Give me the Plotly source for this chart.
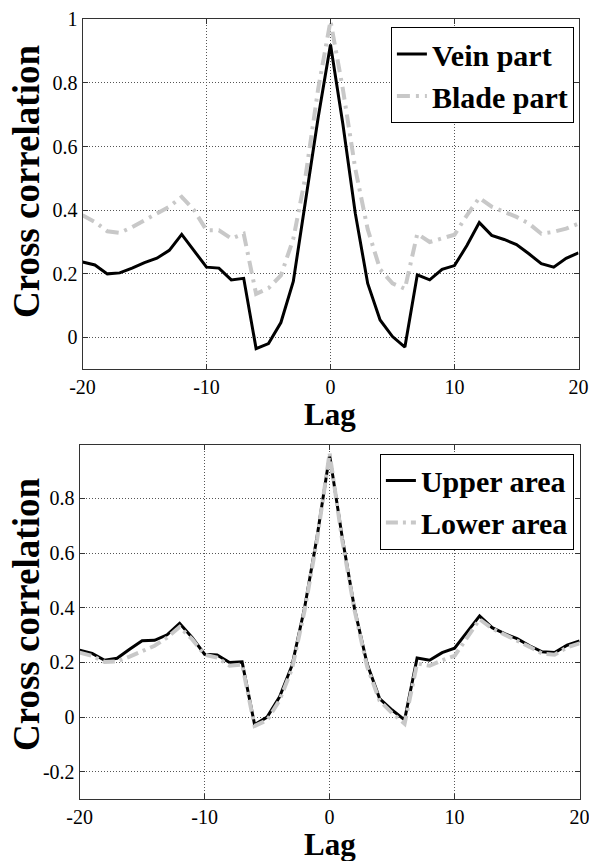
import plotly.graph_objects as go

lags = list(range(-20, 21))

vein_part = [0.237, 0.228, 0.200, 0.203, 0.218, 0.235, 0.249, 0.274, 0.324, 0.274,
             0.221, 0.218, 0.181, 0.186, -0.035, -0.019, 0.047, 0.176, 0.43, 0.69,
             0.921,
             0.67, 0.39, 0.17, 0.055, 0.003, -0.03, 0.197, 0.181, 0.214, 0.226,
             0.289, 0.361, 0.321, 0.308, 0.292, 0.263, 0.232, 0.221, 0.249, 0.266]

blade_part = [0.384, 0.363, 0.334, 0.329, 0.347, 0.368, 0.387, 0.411, 0.442, 0.400,
              0.337, 0.337, 0.311, 0.326, 0.137, 0.155, 0.195, 0.31, 0.51, 0.78,
              0.995,
              0.78, 0.53, 0.34, 0.214, 0.17, 0.153, 0.326, 0.300, 0.310, 0.323,
              0.384, 0.439, 0.411, 0.395, 0.379, 0.358, 0.326, 0.332, 0.342, 0.358]

upper_area = [0.245, 0.233, 0.208, 0.215, 0.248, 0.279, 0.281, 0.301, 0.343, 0.291,
              0.230, 0.227, 0.200, 0.202, -0.027, 0.000, 0.074, 0.190, 0.40, 0.66,
              0.958,
              0.66, 0.395, 0.195, 0.068, 0.026, -0.01, 0.216, 0.208, 0.236, 0.252,
              0.309, 0.370, 0.327, 0.305, 0.287, 0.261, 0.239, 0.236, 0.263, 0.279]

lower_area = [0.236, 0.224, 0.202, 0.204, 0.221, 0.242, 0.261, 0.291, 0.330, 0.285,
              0.228, 0.218, 0.188, 0.192, -0.032, -0.011, 0.062, 0.178, 0.39, 0.65,
              0.965,
              0.65, 0.39, 0.185, 0.06, 0.015, -0.024, 0.196, 0.188, 0.208, 0.224,
              0.291, 0.358, 0.324, 0.303, 0.281, 0.257, 0.233, 0.228, 0.255, 0.270]

x_ticks = [-20, -10, 0, 10, 20]
x_ticktext = ["-20", "-10", "0", "10", "20"]
y1_ticks = [0, 0.2, 0.4, 0.6, 0.8, 1.0]
y1_ticktext = ["0", "0.2", "0.4", "0.6", "0.8", "1"]
y2_ticks = [-0.2, 0, 0.2, 0.4, 0.6, 0.8]
y2_ticktext = ["-0.2", "0", "0.2", "0.4", "0.6", "0.8"]

W, H = 589, 861
SERIF = "Liberation Serif"
GRAY = "#c8c8c8"

fig = go.Figure()

fig.add_trace(go.Scatter(x=lags, y=blade_part, mode="lines", name="<b>Blade part</b>",
                         line=dict(color=GRAY, width=4, dash="13px,6px,3px,6px"),
                         xaxis="x", yaxis="y", legend="legend", legendrank=2))
fig.add_trace(go.Scatter(x=lags, y=vein_part, mode="lines", name="<b>Vein part</b>",
                         line=dict(color="black", width=3),
                         xaxis="x", yaxis="y", legend="legend", legendrank=1))
fig.add_trace(go.Scatter(x=lags, y=upper_area, mode="lines", name="<b>Upper area</b>",
                         line=dict(color="black", width=3),
                         xaxis="x2", yaxis="y2", legend="legend2", legendrank=1))
fig.add_trace(go.Scatter(x=lags, y=lower_area, mode="lines", name="<b>Lower area</b>",
                         line=dict(color=GRAY, width=4, dash="12px,5px,3px,5px"),
                         xaxis="x2", yaxis="y2", legend="legend2", legendrank=2))

axis_common = dict(showline=True, mirror="ticks", linecolor="#333", linewidth=1,
                   ticks="inside", ticklen=5, tickcolor="#333",
                   showgrid=True, gridcolor="#555", griddash="1px,2px", gridwidth=1,
                   zeroline=False, automargin=False, ticklabeloverflow="allow",
                   tickfont=dict(family=SERIF, size=20, color="black"))

legend_common = dict(xanchor="right", yanchor="top",
                     bgcolor="white", bordercolor="black", borderwidth=1,
                     font=dict(family=SERIF, size=30, color="black"),
                     traceorder="normal", tracegroupgap=0, itemwidth=30)

fig.update_layout(
    template="none",
    width=W, height=H,
    margin=dict(l=0, r=0, t=0, b=0, pad=0, autoexpand=False),
    paper_bgcolor="white", plot_bgcolor="white",
    xaxis=dict(domain=[82.5 / W, 578.5 / W], range=[-20, 20], anchor="y",
               tickvals=x_ticks, ticktext=x_ticktext, **axis_common),
    yaxis=dict(domain=[1 - 369.3 / H, 1 - 19.3 / H], range=[-0.1, 1.0], anchor="x",
               tickvals=y1_ticks, ticktext=y1_ticktext, **axis_common),
    xaxis2=dict(domain=[79.6 / W, 579.6 / W], range=[-20, 20], anchor="y2",
                tickvals=x_ticks, ticktext=x_ticktext, **axis_common),
    yaxis2=dict(domain=[1 - 799.2 / H, 1 - 445.0 / H], range=[-0.3, 0.995], anchor="x2",
                tickvals=y2_ticks, ticktext=y2_ticktext, **axis_common),
    showlegend=True,
    legend=dict(x=573.9 / W, y=1 - 27 / H, **legend_common),
    legend2=dict(x=573.9 / W, y=1 - 453.5 / H, **legend_common),
)

annotations = [
    dict(text="<b>Cross correlation</b>", x=26 / W, y=1 - 182 / H, textangle=-90, size=37),
    dict(text="<b>Lag</b>", x=330 / W, y=1 - 414 / H, textangle=0, size=31),
    dict(text="<b>Cross correlation</b>", x=26 / W, y=1 - 615 / H, textangle=-90, size=37),
    dict(text="<b>Lag</b>", x=330 / W, y=1 - 844 / H, textangle=0, size=31),
]
for a in annotations:
    size = a.pop("size")
    fig.add_annotation(xref="paper", yref="paper", xanchor="center", yanchor="middle",
                       showarrow=False,
                       font=dict(family=SERIF, size=size, color="black"), **a)

fig.write_html("out.html", config={"displayModeBar": False},
               post_script="document.body.style.margin='0px';document.body.style.overflow='hidden';")
